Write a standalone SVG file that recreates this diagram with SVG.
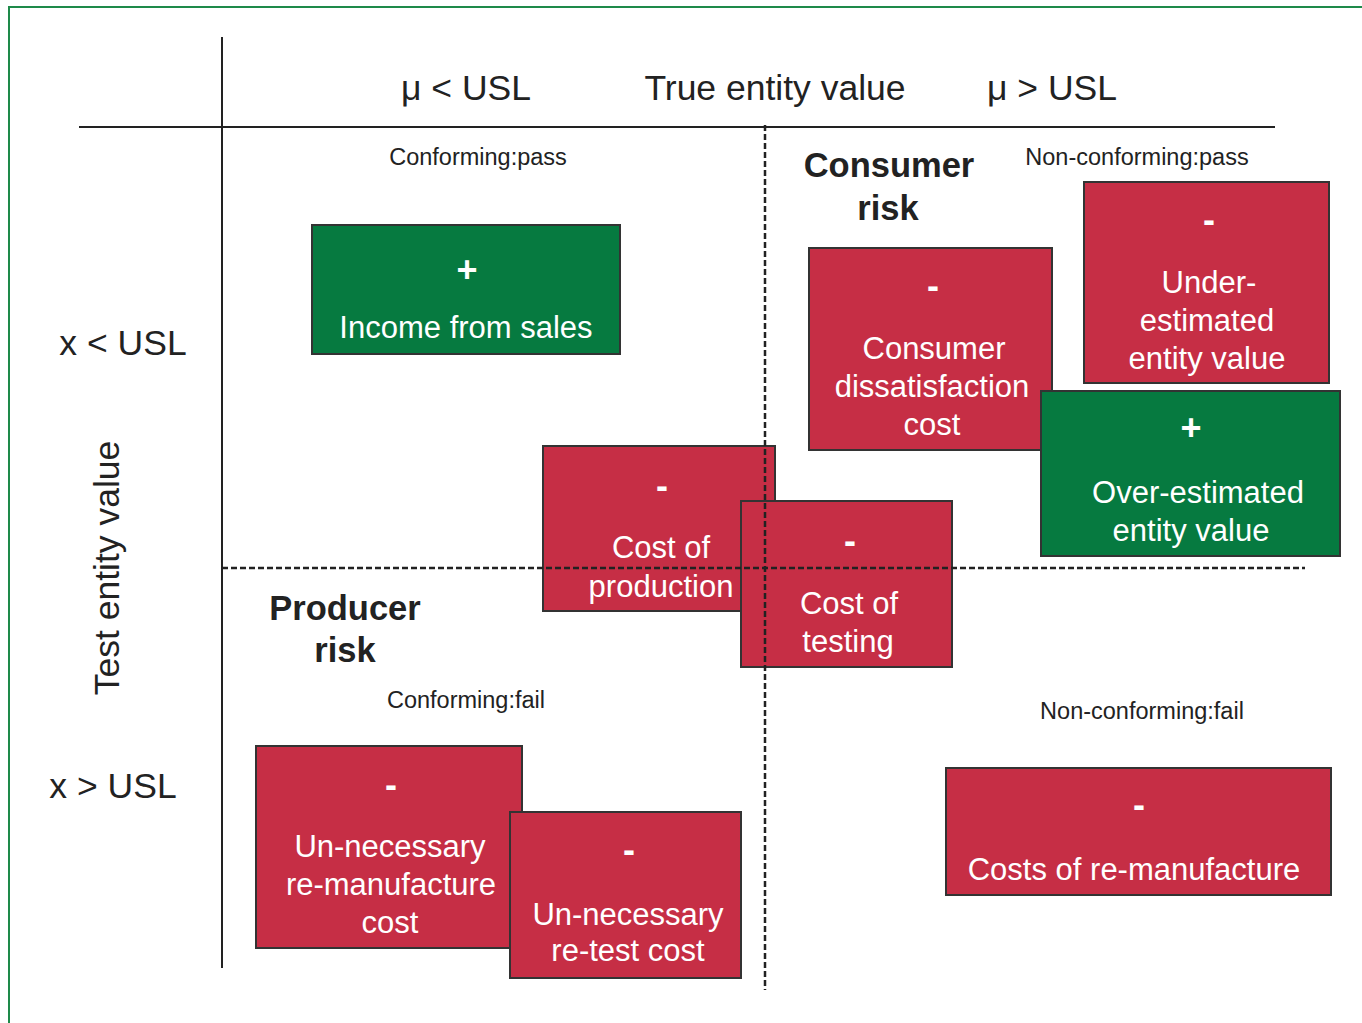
<svg xmlns="http://www.w3.org/2000/svg" width="1362" height="1023" viewBox="0 0 1362 1023">
<style>
text{font-family:"Liberation Sans",Arial,sans-serif;text-anchor:middle}
.ax{font-size:35.5px;fill:#222}
.hd{font-size:34.5px;font-weight:bold;fill:#222}
.sm{font-size:23.5px;fill:#222}
.bx text{font-size:31px;fill:#fff}
.bx .sg{font-size:36px;font-weight:bold}
.red{fill:#C62E45;stroke:#333;stroke-width:2}
.grn{fill:#067A40;stroke:#333;stroke-width:2}
.solid{stroke:#222;stroke-width:2;fill:none}
.dash{stroke:#222;stroke-width:2.5;stroke-dasharray:6 3;fill:none}
</style>
<rect x="0" y="0" width="1362" height="1023" fill="#fff"/>
<rect x="9" y="7" width="1370" height="1030" fill="none" stroke="#1E8A4A" stroke-width="2"/>
<g id="axes-labels">
<text class="ax" x="466" y="100">μ &lt; USL</text>
<text class="ax" x="775" y="100">True entity value</text>
<text class="ax" x="1052" y="100">μ &gt; USL</text>
<text class="ax" x="123" y="355">x &lt; USL</text>
<text class="ax" x="113" y="798">x &gt; USL</text>
<text class="ax" transform="translate(119 568) rotate(-90)">Test entity value</text>
<text class="hd" x="889" y="177">Consumer</text>
<text class="hd" x="888" y="220">risk</text>
<text class="hd" x="345" y="620">Producer</text>
<text class="hd" x="345" y="662">risk</text>
<text class="sm" x="478" y="165">Conforming:pass</text>
<text class="sm" x="1137" y="165">Non-conforming:pass</text>
<text class="sm" x="466" y="708">Conforming:fail</text>
<text class="sm" x="1142" y="719">Non-conforming:fail</text>
</g>
<g id="node-income" class="bx">
<rect class="grn" x="312" y="225" width="308" height="129"/>
<text class="sg" x="467" y="282">+</text>
<text x="466" y="338">Income from sales</text>
</g>
<g id="node-consumer" class="bx">
<rect class="red" x="809" y="248" width="243" height="202"/>
<text class="sg" x="933" y="298">-</text>
<text x="934" y="359">Consumer</text>
<text x="932" y="397">dissatisfaction</text>
<text x="932" y="435">cost</text>
</g>
<g id="node-under" class="bx">
<rect class="red" x="1084" y="182" width="245" height="201"/>
<text class="sg" x="1209" y="232">-</text>
<text x="1209" y="293">Under-</text>
<text x="1207" y="331">estimated</text>
<text x="1207" y="369">entity value</text>
</g>
<g id="node-over" class="bx">
<rect class="grn" x="1041" y="391" width="299" height="165"/>
<text class="sg" x="1191" y="440">+</text>
<text x="1198" y="503">Over-estimated</text>
<text x="1191" y="541">entity value</text>
</g>
<g id="node-production" class="bx">
<rect class="red" x="543" y="446" width="232" height="165"/>
<text class="sg" x="662" y="498">-</text>
<text x="661" y="558">Cost of</text>
<text x="661" y="597">production</text>
</g>
<g id="node-testing" class="bx">
<rect class="red" x="741" y="501" width="211" height="166"/>
<text class="sg" x="850" y="553">-</text>
<text x="849" y="614">Cost of</text>
<text x="848" y="652">testing</text>
</g>
<g id="node-remanufacture-unnec" class="bx">
<rect class="red" x="256" y="746" width="266" height="202"/>
<text class="sg" x="391" y="797">-</text>
<text x="390" y="857">Un-necessary</text>
<text x="391" y="895">re-manufacture</text>
<text x="390" y="933">cost</text>
</g>
<g id="node-retest" class="bx">
<rect class="red" x="510" y="812" width="231" height="166"/>
<text class="sg" x="629" y="862">-</text>
<text x="628" y="925">Un-necessary</text>
<text x="628" y="961">re-test cost</text>
</g>
<g id="node-remanufacture" class="bx">
<rect class="red" x="946" y="768" width="385" height="127"/>
<text class="sg" x="1139" y="817">-</text>
<text x="1134" y="880">Costs of re-manufacture</text>
</g>
<g id="connectors">
<line class="solid" x1="79" y1="127" x2="1275" y2="127"/>
<line class="solid" x1="222" y1="37" x2="222" y2="968"/>
<line class="dash" x1="222" y1="568" x2="1305" y2="568"/>
<line class="dash" x1="765" y1="125" x2="765" y2="990"/>
</g>
</svg>
